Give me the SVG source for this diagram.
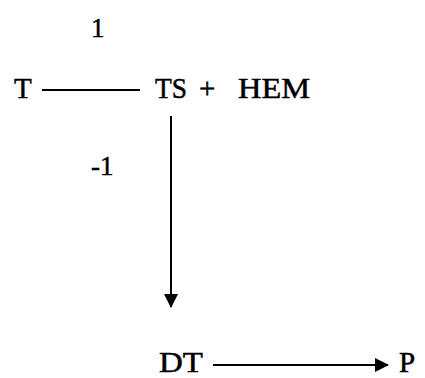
<svg xmlns="http://www.w3.org/2000/svg" width="425" height="378" viewBox="0 0 425 378">
<style>
text{font-family:"Liberation Serif","Times New Roman",serif;font-size:29px;fill:#000;stroke:#000;stroke-width:0.5}
.n{font-size:27px}
.c{stroke:#000;stroke-width:2;fill:none}
</style>
<defs>
<marker id="ah" markerWidth="14" markerHeight="14" refX="13" refY="7" orient="auto" markerUnits="userSpaceOnUse">
<path d="M0,0 L14,7 L0,14 Z" fill="#000"/>
</marker>
</defs>
<rect width="425" height="378" fill="#fff"/>
<g id="connectors">
<line class="c" x1="42" y1="90" x2="140" y2="90"/>
<line class="c" x1="171" y1="116" x2="171" y2="307" marker-end="url(#ah)"/>
<line class="c" x1="213" y1="365" x2="388" y2="365" marker-end="url(#ah)"/>
</g>
<g id="label-1"><text class="n" x="91" y="37">1</text></g>
<g id="label-m1"><text class="n" x="91" y="175">-1</text></g>
<g id="node-T"><text x="14" y="98">T</text></g>
<g id="node-TS-HEM"><text x="155" y="98" textLength="32" lengthAdjust="spacingAndGlyphs">TS</text><text x="199" y="98">+</text><text x="238" y="98" textLength="72" lengthAdjust="spacingAndGlyphs">HEM</text></g>
<g id="node-DT"><text x="159" y="372" font-size="28" textLength="44" lengthAdjust="spacingAndGlyphs">DT</text></g>
<g id="node-P"><text x="399" y="372" font-size="28">P</text></g>
</svg>
